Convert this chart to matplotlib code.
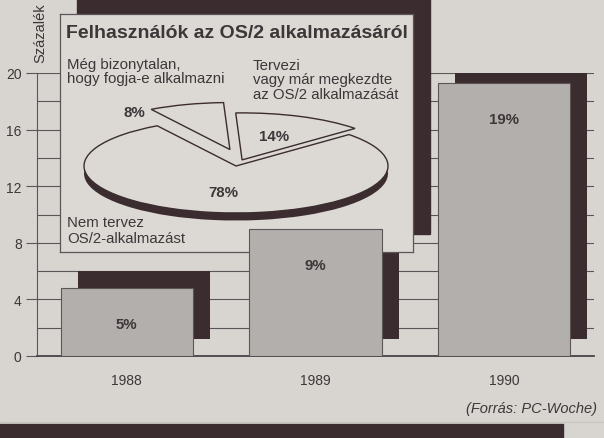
import matplotlib
matplotlib.use("Agg")
import matplotlib.pyplot as plt
import matplotlib.transforms as mtransforms
from matplotlib.patches import Rectangle, Polygon
import numpy as np

# bar chart data
years = ["1988", "1989", "1990"]
share = [4.8, 9.0, 19.3]
share_labels = ["5%", "9%", "19%"]

# inset pie data
pie_values = [14, 8, 78]
pie_labels = ["14%", "8%", "78%"]

title = "Felhasználók az OS/2 alkalmazásáról"
note_unsure = "Még bizonytalan,\nhogy fogja-e alkalmazni"
note_plans = "Tervezi\nvagy már megkezdte\naz OS/2 alkalmazását"
note_no = "Nem tervez\nOS/2-alkalmazást"
source = "(Forrás: PC-Woche)"

W, H = 604, 439
BG = "#d8d5d1"
BOX = "#dcd9d5"
BAR = "#b3afac"
DARK = "#3b2c2f"
INK = "#3e3739"
LINE = "#5c5558"


def box(x0, y0, x1, y1):
    # pixel box (top-left origin) -> figure fraction
    return [x0 / W, 1 - y1 / H, (x1 - x0) / W, (y1 - y0) / H]


plt.rcParams["font.family"] = ["Liberation Sans", "DejaVu Sans"]

fig = plt.figure(figsize=(W / 100, H / 100), dpi=100)
fig.patch.set_facecolor(BG)

x = np.arange(len(years))
xlim = (-0.476, 2.476)

# back axes: grid, ticks, shadows
ax = fig.add_axes(box(37, 74, 594, 357))
ax.set_facecolor("none")
ax.set_xlim(*xlim)
ax.set_ylim(0, 20)
ax.set_yticks(range(0, 21, 4))
ax.set_yticks(range(2, 20, 4), minor=True)
ax.set_xticks(x, years)
ax.grid(axis="y", which="both", color=LINE, lw=0.8)
ax.set_axisbelow(True)
ax.tick_params(axis="y", which="major", length=8, width=0.8, color=LINE,
               labelsize=10, labelcolor=INK, pad=3)
ax.tick_params(axis="y", which="minor", length=0)
ax.tick_params(axis="x", length=0, labelsize=10, labelcolor=INK, pad=12)
for s in ["top", "right"]:
    ax.spines[s].set_visible(False)
ax.spines["left"].set_color(LINE)
ax.spines["bottom"].set_color("#4a4245")
ax.spines["bottom"].set_linewidth(1.3)

shadow = mtransforms.offset_copy(ax.transData, fig=fig, x=17, y=17, units="dots")
for p in ax.bar(x, share, width=0.7, color=DARK, zorder=2):
    p.set_transform(shadow)

# inset box with its shadow
fig.add_artist(Rectangle((77 / W, 1 - 235 / H), (430 - 77) / W, 240 / H,
                         transform=fig.transFigure, color=DARK, zorder=0.5))
ibox = fig.add_axes(box(60, 15, 413, 253), zorder=1)
ibox.set_facecolor(BOX)
ibox.set_xticks([])
ibox.set_yticks([])
for s in ibox.spines.values():
    s.set_color(LINE)
    s.set_linewidth(0.9)

# pie, squashed into an ellipse
cx, cy, rx, ry = 236, 167, 152, 47
pax = fig.add_axes(box(cx - 1.3 * rx, cy - 1.6 * ry, cx + 1.3 * rx, cy + 1.6 * ry), zorder=1.5)
start = 42
side, _ = pax.pie(pie_values, startangle=start, colors=["none", "none", DARK],
                  center=(0, -0.16), wedgeprops=dict(linewidth=0))
clip = Polygon([(-2, 0.05), (-0.6, 0.05), (-0.6, -0.5), (0.6, -0.5), (0.6, 0.05),
                (2, 0.05), (2, -2), (-2, -2)], transform=pax.transData)
side[2].set_clip_path(clip)
wedges, _ = pax.pie(pie_values, startangle=start, colors=[BOX] * 3,
                    wedgeprops=dict(edgecolor=DARK, linewidth=1))
lift = [(0.04, 0.13), (-0.04, 0.35), (0.0, 0.0)]
for w, d in zip(wedges, lift):
    w.set_center(d)
pax.set_aspect("auto")
pax.set_xlim(-1.3, 1.3)
pax.set_ylim(-1.6, 1.6)
pax.axis("off")

edges = start + 3.6 * np.cumsum([0] + pie_values)
mids = np.radians((edges[:-1] + edges[1:]) / 2)
kw = dict(fontsize=10.8, fontweight="bold", color=INK)
# 14% inside its slice
pax.text(0.55 * np.cos(mids[0]) + lift[0][0], 0.55 * np.sin(mids[0]) + lift[0][1],
         pie_labels[0], ha="center", va="center", **kw)
# 8% to the left of its slice
a = np.radians(edges[2])
pax.text(np.cos(a) + lift[1][0] - 0.04, np.sin(a) + lift[1][1] - 0.05,
         pie_labels[1], ha="right", va="center", **kw)
# 78% in the big slice
pax.text(0.55 * np.cos(mids[2]), 0.55 * np.sin(mids[2]),
         pie_labels[2], ha="center", va="center", **kw)

# front axes: the bars themselves sit above the inset box
fax = fig.add_axes(box(37, 74, 594, 357), zorder=2)
fax.set_xlim(*xlim)
fax.set_ylim(0, 20)
fax.axis("off")
fax.bar(x, share, width=0.7, color=BAR, edgecolor=LINE, lw=0.8)
for xi, h, lab in zip(x, share, share_labels):
    fax.annotate(lab, (xi, h), xytext=(0, -36), textcoords="offset pixels",
                 ha="center", va="center", **kw)

# texts (multi-line texts are anchored on the baseline of their last line)
fig.text(66 / W, 1 - 38 / H, title, fontsize=14, fontweight="bold", color=INK,
         va="baseline")
tkw = dict(fontsize=10.8, color=INK, va="baseline")
fig.text(67 / W, 1 - 83 / H, note_unsure, linespacing=1.02, **tkw)
fig.text(253 / W, 1 - 99 / H, note_plans, linespacing=1.05, **tkw)
fig.text(67 / W, 1 - 243 / H, note_no, linespacing=1.2, **tkw)
fig.text(40 / W, 1 - 63 / H, "Százalék", rotation=90, ha="center", va="bottom",
         fontsize=10.5, color=INK)
fig.text(597 / W, 1 - 409 / H, source, ha="right", va="center", fontsize=10.5,
         style="italic", color=INK)

# dark band at the bottom of the clipping
fig.add_artist(Rectangle((0, 0), 563 / W, 14 / H, transform=fig.transFigure,
                         color=DARK, zorder=0.5))
fig.add_artist(plt.Line2D([0, 1], [1 - 423 / H] * 2, transform=fig.transFigure,
                          color="#c9c5c1", lw=1))

fig.savefig("out.png", dpi=100, facecolor=BG)
